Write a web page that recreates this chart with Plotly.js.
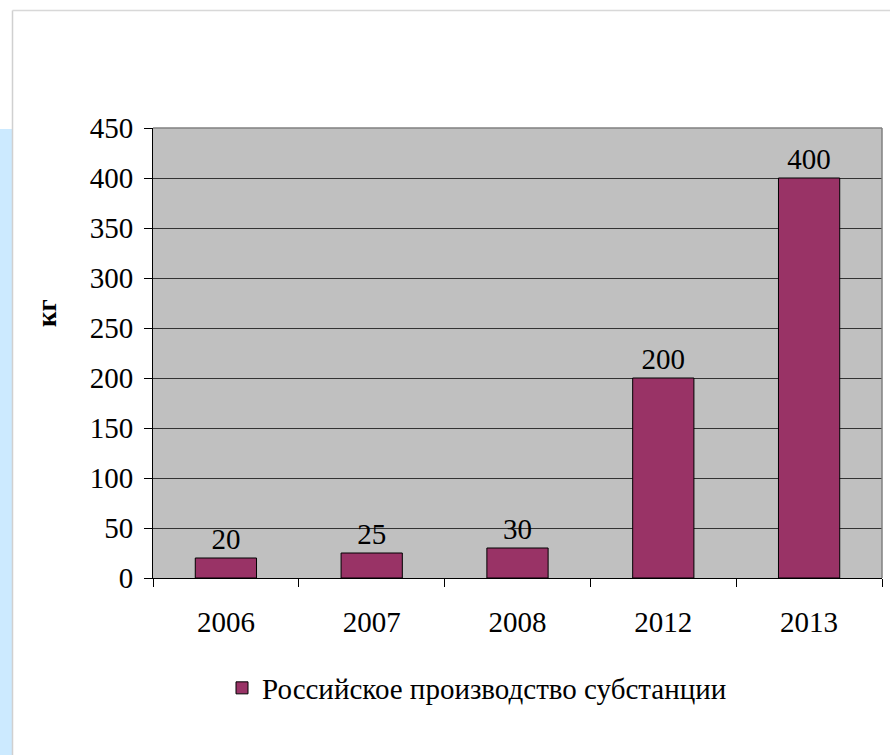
<!DOCTYPE html>
<html>
<head>
<meta charset="utf-8">
<script src="https://cdn.plot.ly/plotly-3.0.1.min.js"></script>
<style>
  html, body { margin: 0; padding: 0; background: #ffffff; }
  #chart { width: 890px; height: 755px; }
</style>
</head>
<body>
<div id="chart"></div>
<script>
const years = ["2006", "2007", "2008", "2012", "2013"];
const values = [20, 25, 30, 200, 400];
const seriesName = "Российское производство субстанции";
const yTitle = "кг";
const yTickVals = [0, 50, 100, 150, 200, 250, 300, 350, 400, 450];

const FONT = 'Liberation Serif, Tinos, Times New Roman, DejaVu Serif';
const FS = 29;

const trace = {
  type: 'bar',
  x: years,
  y: values,
  name: seriesName,
  text: values.map(String),
  textposition: 'outside',
  cliponaxis: false,
  textfont: { family: FONT, size: FS, color: '#000000' },
  marker: { color: '#993366', line: { color: '#000000', width: 1 } },
  showlegend: true
};

// plot area: x 153..882, y 128..578
const L = 153, R = 882, T = 128, B = 578, W = 890, H = 755;
const px = v => (v - L) / (R - L);
const py = v => (B - v) / (B - T);

const layout = {
  width: W,
  height: H,
  margin: { l: L, r: W - R, t: T, b: H - B },
  paper_bgcolor: '#ffffff',
  plot_bgcolor: '#c0c0c0',
  bargap: 0.58,
  font: { family: FONT, size: FS, color: '#000000' },
  showlegend: true,
  legend: {
    orientation: 'h',
    x: px(222), xanchor: 'left',
    y: py(688), yanchor: 'middle',
    font: { family: FONT, size: FS, color: '#000000' },
    bgcolor: 'rgba(0,0,0,0)'
  },
  xaxis: {
    type: 'category',
    tickson: 'boundaries',
    ticks: 'outside',
    ticklen: 8,
    tickcolor: '#000000',
    tickwidth: 1,
    showline: true,
    linecolor: '#000000',
    linewidth: 1,
    showgrid: false,
    ticklabelstandoff: 18,
    tickfont: { family: FONT, size: FS, color: '#000000' },
    fixedrange: true
  },
  yaxis: {
    range: [0, 450],
    tickvals: yTickVals,
    ticks: 'outside',
    ticklen: 8,
    tickcolor: '#000000',
    tickwidth: 1,
    showline: true,
    linecolor: '#000000',
    linewidth: 1,
    showgrid: true,
    gridcolor: '#333333',
    gridwidth: 1,
    zeroline: false,
    ticklabelstandoff: 5,
    tickfont: { family: FONT, size: FS, color: '#000000' },
    automargin: false,
    fixedrange: true
  },
  annotations: [
    { text: '<b>' + yTitle + '</b>', xref: 'paper', yref: 'paper', x: px(47), y: py(313),
      xanchor: 'center', yanchor: 'middle', textangle: -90, showarrow: false,
      font: { family: FONT, size: 27, color: '#000000' } }
  ],
  shapes: [
    { type: 'rect', xref: 'paper', yref: 'paper', x0: px(0), x1: px(12), y0: py(755), y1: py(129),
      fillcolor: '#cceaff', line: { width: 0 }, layer: 'below' },
    { type: 'line', xref: 'paper', yref: 'paper', x0: px(12.5), x1: px(12.5), y0: py(755), y1: py(10.5),
      line: { color: '#d0d0d0', width: 1.5 } },
    { type: 'line', xref: 'paper', yref: 'paper', x0: px(12.5), x1: px(890), y0: py(10.5), y1: py(10.5),
      line: { color: '#d8d8d8', width: 1.5 } },
    { type: 'line', xref: 'paper', yref: 'paper', x0: 0, x1: 1, y0: 1, y1: 1,
      line: { color: '#808080', width: 1.5 } },
    { type: 'line', xref: 'paper', yref: 'paper', x0: 1, x1: 1, y0: 0, y1: 1,
      line: { color: '#808080', width: 1.5 } }
  ]
};

Plotly.newPlot('chart', [trace], layout, { displayModeBar: false, staticPlot: true });
</script>
</body>
</html>
